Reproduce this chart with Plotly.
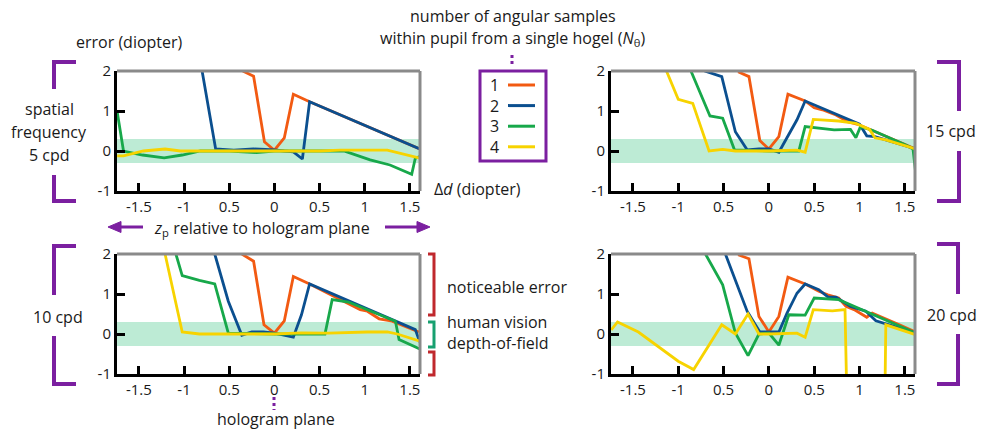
import plotly.graph_objects as go

W, H = 988, 432
FONT = "Open Sans"
PURPLE = "#7b1fa0"
RED = "#c0282d"
TEAL = "#17a070"
BAND = "#bdebd5"
TXT = "#1a1a1a"
C_OR, C_BL, C_GR, C_YE = "#f25a12", "#0b4f8f", "#17a84a", "#f7d300"

# ---------------- data ----------------
x_tick_vals = [-1.5, -1, -0.5, 0, 0.5, 1, 1.5]
x_tick_text = ["-1.5", "-1", "0.5", "0", "0.5", "1", "1.5"]
y_tick_vals = [-1, 0, 1, 2]
y_tick_text = ["-1", "0", "1", "2"]
legend_labels = ["1", "2", "3", "4"]
panel_labels = ["spatial<br>frequency<br>5 cpd", "15 cpd", "10 cpd", "20 cpd"]
dof_band = [-0.3, 0.3]

# 5 cpd (top left)
tl_or_x = [-0.35, -0.23, -0.11, 0, 0.11, 0.21, 0.39, 1.61]
tl_or_y = [2.0, 1.87, 0.23, 0.02, 0.33, 1.42, 1.23, 0.05]
tl_bl_x = [-0.80, -0.65, -0.45, -0.23, -0.1, 0, 0.11, 0.21, 0.31, 0.39, 1.61]
tl_bl_y = [2.0, 0.05, 0.02, 0.05, 0.04, 0.03, 0.0, -0.02, -0.2, 1.23, 0.05]
tl_gr_x = [-1.74, -1.67, -1.46, -1.22, -1.02, -0.82, -0.5, -0.2, 0, 0.4, 0.77, 1.06, 1.28, 1.52, 1.56, 1.61]
tl_gr_y = [0.98, 0.0, -0.1, -0.17, -0.1, 0.0, 0.0, -0.04, 0.0, 0.0, 0.0, -0.22, -0.35, -0.58, -0.18, -0.14]
tl_ye_x = [-1.74, -1.67, -1.45, -1.21, -1.04, -0.5, 0, 0.5, 0.73, 1.0, 1.25, 1.61]
tl_ye_y = [-0.12, -0.12, 0.0, 0.05, 0.0, 0.0, 0.0, 0.0, 0.02, 0.02, 0.02, -0.18]

# 15 cpd (top right)
tr_or_x = [-0.34, -0.22, -0.10, 0, 0.11, 0.21, 0.40, 0.50, 0.59, 0.74, 0.87, 1.0, 1.62]
tr_or_y = [1.98, 1.86, 0.26, 0.05, 0.36, 1.42, 1.25, 1.08, 1.03, 0.9, 0.73, 0.65, 0.05]
tr_bl_x = [-0.71, -0.52, -0.37, -0.24, -0.11, 0, 0.11, 0.31, 0.40, 0.55, 0.75, 1.0, 1.08, 1.17, 1.51, 1.62]
tr_bl_y = [2.0, 1.86, 0.48, 0.03, 0.05, 0.05, -0.03, 0.78, 1.25, 1.1, 0.9, 0.67, 0.38, 0.36, 0.13, 0.05]
tr_gr_x = [-0.86, -0.65, -0.51, -0.38, 0, 0.33, 0.40, 0.55, 0.72, 0.90, 0.96, 1.01, 1.14, 1.51, 1.59, 1.62]
tr_gr_y = [2.0, 0.875, 0.82, 0.03, 0.0, 0.0, 0.61, 0.58, 0.53, 0.54, 0.33, 0.61, 0.52, 0.15, 0.05, -0.55]
tr_ye_x = [-1.13, -1.0, -0.84, -0.66, -0.51, -0.37, 0, 0.31, 0.40, 0.49, 0.77, 0.96, 1.11, 1.17, 1.29, 1.62]
tr_ye_y = [2.0, 1.29, 1.19, 0.0, 0.04, 0.0, 0.0, 0.02, -0.03, 0.79, 0.75, 0.69, 0.54, 0.33, 0.28, 0.05]

# 10 cpd (bottom left)
bl_or_x = [-0.36, -0.23, -0.115, 0, 0.11, 0.21, 0.39, 0.95, 1.03, 1.16, 1.29, 1.6]
bl_or_y = [2.0, 1.82, 0.23, 0.02, 0.33, 1.44, 1.25, 0.61, 0.57, 0.38, 0.33, 0.05]
bl_bl_x = [-0.66, -0.51, -0.36, -0.25, -0.12, 0, 0.21, 0.30, 0.39, 1.56, 1.61]
bl_bl_y = [2.0, 0.82, -0.03, 0.05, 0.05, 0.02, -0.08, 0.48, 1.25, 0.11, -0.2]
bl_gr_x = [-1.09, -1.02, -0.83, -0.66, -0.51, 0, 0.56, 0.64, 0.82, 1.03, 1.34, 1.38, 1.61]
bl_gr_y = [2.0, 1.46, 1.34, 1.25, 0.02, 0.0, 0.0, 0.86, 0.8, 0.61, 0.32, -0.14, -0.375]
bl_ye_x = [-1.21, -1.02, -0.83, -0.3, 0, 0.30, 0.6, 1.03, 1.25, 1.36, 1.61]
bl_ye_y = [2.0, 0.05, 0.0, 0.0, 0.0, 0.03, 0.02, 0.05, 0.05, 0.0, -0.18]

# 20 cpd (bottom right)
br_or_x = [-0.34, -0.22, -0.11, 0, 0.11, 0.21, 0.40, 0.55, 0.65, 0.77, 0.85, 0.94, 1.08, 1.14, 1.44, 1.62]
br_or_y = [1.98, 1.88, 0.44, 0.05, 0.44, 1.42, 1.25, 1.07, 0.98, 0.9, 0.69, 0.61, 0.42, 0.52, 0.23, 0.05]
br_bl_x = [-0.48, -0.24, -0.10, 0.11, 0.20, 0.31, 0.40, 0.55, 0.65, 0.74, 0.90, 1.07, 1.18, 1.44, 1.62]
br_bl_y = [2.0, 0.57, 0.05, 0.05, 0.52, 1.02, 1.25, 1.11, 0.93, 0.92, 0.69, 0.57, 0.33, 0.15, 0.025]
br_gr_x = [-0.70, -0.51, -0.37, -0.23, -0.11, 0, 0.11, 0.22, 0.40, 0.50, 0.77, 0.94, 1.62]
br_gr_y = [2.0, 1.23, 0.025, -0.54, 0.0, 0.025, -0.28, 0.48, 0.47, 0.9, 0.86, 0.69, 0.025]
br_ye_x = [-1.74, -1.67, -1.44, -1.0, -0.83, -0.52, -0.37, -0.23, -0.11, 0, 0.31, 0.40, 0.49, 0.70, 0.84, 0.86, 1.28, 1.29, 1.62]
br_ye_y = [0.1, 0.3, 0.05, -0.68, -0.89, 0.23, 0.0, 0.5, 0.0, 0.0, 0.02, -0.08, 0.61, 0.58, 0.61, -1.6, -1.6, 0.23, -0.02]

panels = [
    [(tl_or_x, tl_or_y), (tl_bl_x, tl_bl_y), (tl_gr_x, tl_gr_y), (tl_ye_x, tl_ye_y)],
    [(tr_or_x, tr_or_y), (tr_bl_x, tr_bl_y), (tr_gr_x, tr_gr_y), (tr_ye_x, tr_ye_y)],
    [(bl_or_x, bl_or_y), (bl_bl_x, bl_bl_y), (bl_gr_x, bl_gr_y), (bl_ye_x, bl_ye_y)],
    [(br_or_x, br_or_y), (br_bl_x, br_bl_y), (br_gr_x, br_gr_y), (br_ye_x, br_ye_y)],
]
colors = [C_OR, C_BL, C_GR, C_YE]

# ---------------- layout helpers ----------------
def px(x):
    return x / W

def py(y):
    return 1 - y / H

# plot areas in pixels: (left, right, top, bottom)
areas = [(117, 420, 71, 191), (611, 915, 71, 191), (117, 420, 254, 374), (611, 915, 254, 374)]

fig = go.Figure()
layout = dict(
    template="none",
    width=W, height=H, autosize=False,
    margin=dict(l=0, r=0, t=0, b=0, pad=0, autoexpand=False),
    paper_bgcolor="white", plot_bgcolor="white", showlegend=False,
    font=dict(family=FONT, size=16, color=TXT, weight=500),
)
shapes = []
annotations = []
tickfont = dict(family=FONT, size=15, color=TXT, weight=500)

for i, (area, series) in enumerate(zip(areas, panels)):
    n = "" if i == 0 else str(i + 1)
    l, r, t, b = area
    xa = dict(domain=[px(l), px(r)], range=[-1.742, 1.612], anchor="y" + n, automargin=False,
              showline=True, linecolor="black", linewidth=3, showgrid=False, zeroline=False,
              ticks="inside", ticklen=8, tickwidth=3, tickcolor="black",
              tickvals=x_tick_vals, ticktext=x_tick_text, tickfont=tickfont)
    ya = dict(domain=[py(b), py(t)], range=[-1, 2], anchor="x" + n, automargin=False,
              showline=True, linecolor="black", linewidth=3, showgrid=False, zeroline=False,
              ticks="inside", ticklen=8, tickwidth=3, tickcolor="black",
              tickvals=y_tick_vals, ticktext=y_tick_text, tickfont=tickfont)
    layout["xaxis" + n] = xa
    layout["yaxis" + n] = ya
    shapes.append(dict(type="rect", xref="x" + n + " domain", yref="y" + n, x0=0, x1=1,
                       y0=dof_band[0], y1=dof_band[1], fillcolor=BAND, line=dict(width=0), layer="below"))
    shapes.append(dict(type="line", xref="x" + n + " domain", yref="y" + n + " domain",
                       x0=0, x1=1, y0=1, y1=1, line=dict(color="#8a8a8a", width=3), layer="above"))
    shapes.append(dict(type="line", xref="x" + n + " domain", yref="y" + n + " domain",
                       x0=1, x1=1, y0=0, y1=1, line=dict(color="#8a8a8a", width=3), layer="above"))
    for (xs, ys), c in zip(series, colors):
        fig.add_trace(go.Scatter(x=xs, y=ys, mode="lines", xaxis="x" + n, yaxis="y" + n,
                                 line=dict(color=c, width=2.8), hoverinfo="skip"))


def pline(x0, y0, x1, y1, color, width=3, dash=None):
    d = dict(type="line", xref="paper", yref="paper", x0=px(x0), x1=px(x1), y0=py(y0), y1=py(y1),
             line=dict(color=color, width=width))
    if dash:
        d["line"]["dash"] = dash
    shapes.append(d)


def ppath(points, color, width=3, fill=None, close=False):
    s = "M " + " L ".join(f"{px(x):.5f},{py(y):.5f}" for x, y in points)
    if close:
        s += " Z"
    shapes.append(dict(type="path", xref="paper", yref="paper", path=s,
                       line=dict(color=color, width=width),
                       fillcolor=fill if fill else "rgba(0,0,0,0)"))


def text(x, y, s, anchor="center", size=16, color=TXT):
    annotations.append(dict(xref="paper", yref="paper", x=px(x), y=py(y), text=s, showarrow=False,
                            xanchor=anchor, yanchor="middle",
                            font=dict(size=size, color=color, family=FONT, weight=500)))


# purple brackets
ppath([(76, 62), (54, 62), (54, 89)], PURPLE, 4)
ppath([(54, 175), (54, 201), (76, 201)], PURPLE, 4)
ppath([(937, 62), (959, 62), (959, 111)], PURPLE, 4)
ppath([(959, 151), (959, 201), (937, 201)], PURPLE, 4)
ppath([(76, 246), (54, 246), (54, 295)], PURPLE, 4)
ppath([(54, 336), (54, 384), (76, 384)], PURPLE, 4)
ppath([(937, 244), (958, 244), (958, 294)], PURPLE, 4)
ppath([(958, 334), (958, 384), (937, 384)], PURPLE, 4)

# panel labels
text(49, 109, "spatial")
text(49, 132, "frequency")
text(49, 155, "5 cpd")
text(951, 131, panel_labels[1])
text(58, 317, panel_labels[2])
text(952, 315, panel_labels[3])

# red / green brackets
ppath([(428, 254), (434, 254), (434, 315), (428, 315)], RED, 3)
ppath([(428, 322), (434, 322), (434, 347), (428, 347)], TEAL, 3)
ppath([(428, 352), (434, 352), (434, 375), (428, 375)], RED, 3)
text(445, 287, "noticeable error", anchor="left")
text(445, 322, "human vision", anchor="left")
text(445, 343, "depth-of-field", anchor="left")

# axis titles
text(129, 42, "error (diopter)")
text(432, 189, "Δ<i>d</i> (diopter)", anchor="left")
text(262, 228, "<i>z</i><sub>p</sub> relative to hologram plane")
pline(118, 227, 143, 227, PURPLE, 3)
ppath([(108, 227), (121, 221.5), (121, 232.5)], PURPLE, 1, fill=PURPLE, close=True)
pline(385, 227, 420, 227, PURPLE, 3)
ppath([(430, 227), (417, 221.5), (417, 232.5)], PURPLE, 1, fill=PURPLE, close=True)

# hologram plane marker
pline(274, 397, 274, 410, PURPLE, 3, dash="dot")
text(276, 419, "hologram plane")

# legend
text(513, 16, "number of angular samples")
text(512, 38, "within pupil from a single hogel (<i>N</i><sub>θ</sub>)")
pline(512, 55, 512, 67, PURPLE, 3, dash="dot")
ppath([(480, 71), (546, 71), (546, 161), (480, 161)], PURPLE, 3, close=True)
for k, (lab, c) in enumerate(zip(legend_labels, colors)):
    yy = 85 + k * 20.6
    text(494, yy, lab)
    pline(508, yy, 535, yy, c, 3)

layout["shapes"] = shapes
layout["annotations"] = annotations
fig.update_layout(**layout)
fig.write_html("out.html")
